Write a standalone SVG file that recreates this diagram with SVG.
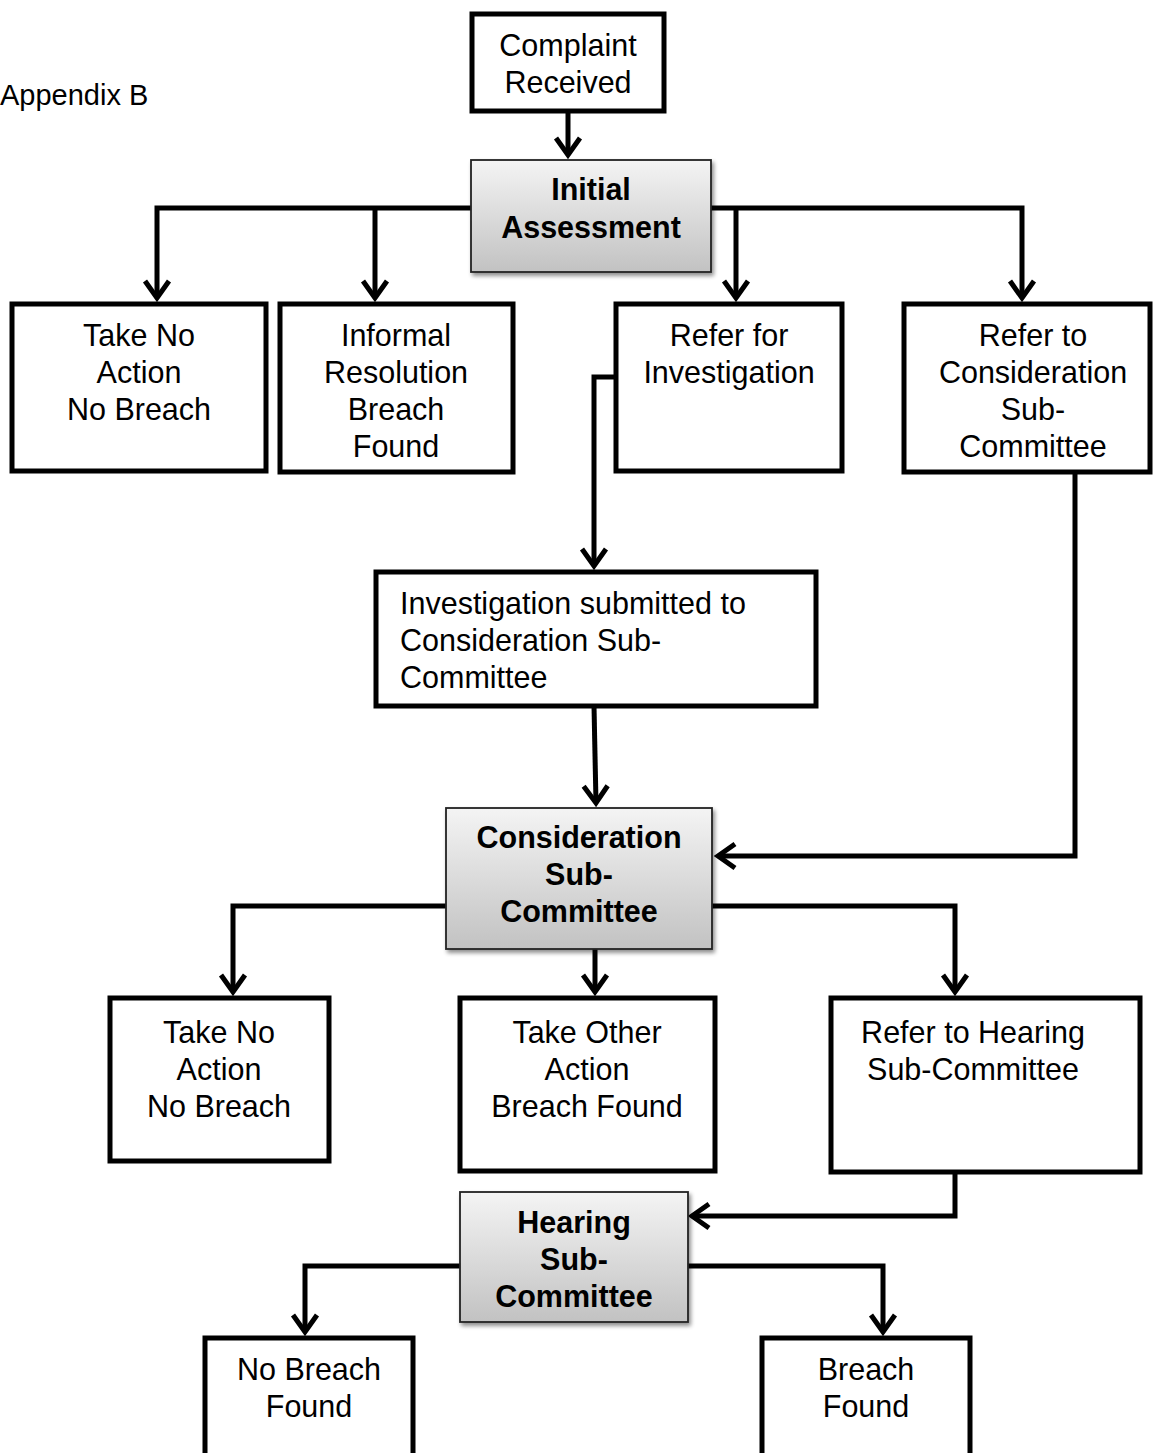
<svg xmlns="http://www.w3.org/2000/svg" width="1162" height="1453" viewBox="0 0 1162 1453">
<defs>
<linearGradient id="g" x1="0" y1="0" x2="0" y2="1">
<stop offset="0" stop-color="#f4f4f4"/>
<stop offset="1" stop-color="#c2c2c2"/>
</linearGradient>
<filter id="sh" x="-10%" y="-10%" width="130%" height="130%">
<feGaussianBlur in="SourceAlpha" stdDeviation="2"/>
<feOffset dx="2" dy="3"/>
<feComponentTransfer><feFuncA type="linear" slope="0.45"/></feComponentTransfer>
<feMerge><feMergeNode/><feMergeNode in="SourceGraphic"/></feMerge>
</filter>
<marker id="ah" markerUnits="userSpaceOnUse" orient="auto" markerWidth="40" markerHeight="40" viewBox="-25 -20 40 40" refX="0" refY="0">
<path d="M-17,-12 L0,0 L-17,12" fill="none" stroke="#000" stroke-width="5" stroke-linejoin="miter"/>
</marker>
<style>
.b{fill:#fff;stroke:#000;stroke-width:5}
.s{fill:url(#g);stroke:#222;stroke-width:1.8;filter:url(#sh)}
.t{font-family:"Liberation Sans",Arial,sans-serif;font-size:30.5px;fill:#000;text-anchor:middle}
.tb{font-family:"Liberation Sans",Arial,sans-serif;font-size:30.5px;font-weight:bold;fill:#000;text-anchor:middle}
.c{fill:none;stroke:#000;stroke-width:5}
.a{marker-end:url(#ah)}
</style>
</defs>
<rect width="1162" height="1453" fill="#fff"/>
<text x="0" y="105" class="t" style="text-anchor:start;font-size:29px">Appendix B</text>

<g id="connectors">
<line class="c a" x1="568" y1="111" x2="568" y2="155"/>
<polyline class="c a" points="471,208 157,208 157,298"/>
<line class="c a" x1="375" y1="208" x2="375" y2="298"/>
<polyline class="c a" points="711,208 1022,208 1022,298"/>
<line class="c a" x1="736" y1="208" x2="736" y2="298"/>
<polyline class="c a" points="616,377 594,377 594,566"/>
<line class="c a" x1="594" y1="706" x2="596" y2="803"/>
<polyline class="c a" points="1075,472 1075,856 718,856"/>
<polyline class="c a" points="446,906 233,906 233,992"/>
<line class="c a" x1="595" y1="949" x2="595" y2="992"/>
<polyline class="c a" points="712,906 955,906 955,992"/>
<polyline class="c a" points="955,1172 955,1216 692,1216"/>
<polyline class="c a" points="460,1266 305,1266 305,1332"/>
<polyline class="c a" points="688,1266 883,1266 883,1332"/>
</g>

<g id="complaint">
<rect class="b" x="472" y="14" width="192" height="97"/>
<text class="t" x="568" y="56">Complaint</text>
<text class="t" x="568" y="93">Received</text>
</g>
<g id="initial">
<rect class="s" x="471" y="160" width="240" height="112"/>
<text class="tb" x="591" y="200">Initial</text>
<text class="tb" x="591" y="238">Assessment</text>
</g>
<g id="noaction1">
<rect class="b" x="12" y="304" width="254" height="167"/>
<text class="t" x="139" y="346">Take No</text>
<text class="t" x="139" y="383">Action</text>
<text class="t" x="139" y="420">No Breach</text>
</g>
<g id="informal">
<rect class="b" x="280" y="304" width="233" height="168"/>
<text class="t" x="396" y="346">Informal</text>
<text class="t" x="396" y="383">Resolution</text>
<text class="t" x="396" y="420">Breach</text>
<text class="t" x="396" y="457">Found</text>
</g>
<g id="referinv">
<rect class="b" x="616" y="304" width="226" height="167"/>
<text class="t" x="729" y="346">Refer for</text>
<text class="t" x="729" y="383">Investigation</text>
</g>
<g id="refercons">
<rect class="b" x="904" y="304" width="246" height="168"/>
<text class="t" x="1033" y="346">Refer to</text>
<text class="t" x="1033" y="383">Consideration</text>
<text class="t" x="1033" y="420">Sub-</text>
<text class="t" x="1033" y="457">Committee</text>
</g>
<g id="investigation">
<rect class="b" x="376" y="572" width="440" height="134"/>
<text class="t" x="400" y="614" style="text-anchor:start">Investigation submitted to</text>
<text class="t" x="400" y="651" style="text-anchor:start">Consideration Sub-</text>
<text class="t" x="400" y="688" style="text-anchor:start">Committee</text>
</g>
<g id="consideration">
<rect class="s" x="446" y="808" width="266" height="141"/>
<text class="tb" x="579" y="848">Consideration</text>
<text class="tb" x="579" y="885">Sub-</text>
<text class="tb" x="579" y="922">Committee</text>
</g>
<g id="noaction2">
<rect class="b" x="110" y="998" width="219" height="163"/>
<text class="t" x="219" y="1043">Take No</text>
<text class="t" x="219" y="1080">Action</text>
<text class="t" x="219" y="1117">No Breach</text>
</g>
<g id="otheraction">
<rect class="b" x="460" y="998" width="255" height="173"/>
<text class="t" x="587" y="1043">Take Other</text>
<text class="t" x="587" y="1080">Action</text>
<text class="t" x="587" y="1117">Breach Found</text>
</g>
<g id="referhearing">
<rect class="b" x="831" y="998" width="309" height="174"/>
<text class="t" x="973" y="1043">Refer to Hearing</text>
<text class="t" x="973" y="1080">Sub-Committee</text>
</g>
<g id="hearing">
<rect class="s" x="460" y="1192" width="228" height="130"/>
<text class="tb" x="574" y="1233">Hearing</text>
<text class="tb" x="574" y="1270">Sub-</text>
<text class="tb" x="574" y="1307">Committee</text>
</g>
<g id="nobreach">
<rect class="b" x="205" y="1338" width="208" height="140"/>
<text class="t" x="309" y="1380">No Breach</text>
<text class="t" x="309" y="1417">Found</text>
</g>
<g id="breach">
<rect class="b" x="762" y="1338" width="208" height="140"/>
<text class="t" x="866" y="1380">Breach</text>
<text class="t" x="866" y="1417">Found</text>
</g>
</svg>
